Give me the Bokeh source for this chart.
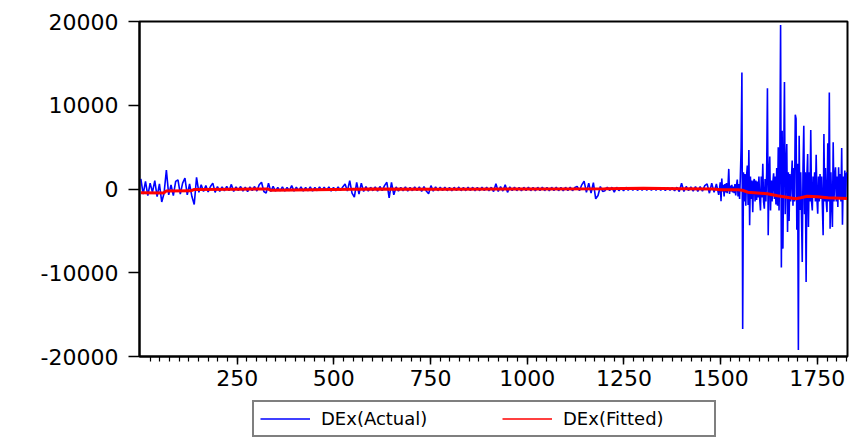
from bokeh.plotting import figure
from bokeh.models import Range1d, FixedTicker, Legend, LegendItem
from bokeh.layouts import column
from bokeh.embed import file_html
from bokeh.resources import INLINE

# ---------------- data ----------------
# quiet part: observations 1, 7, 13, ... 1495
obs_quiet = list(range(1, 1496, 6))
actual_quiet = [
    1200, -600, 900, -800, 700, -400, 1000, -900, 600, -1550,
    -500, 2250, -700, 500, -800, 900, 1100, -600, 700, 1300,
    -700, 600, -900, -1850, 1400, -400, 500, -300, 400, -350,
    300, 700, -400, 300, -280, 250, -230, 320, -200, 550,
    -300, 260, -180, 300, -250, 210, -300, 240, -190, 300,
    -250, 500, 800, -300, -500, 700, -300, 320, -250, 200,
    -220, 250, -260, 180, -200, 400, -250, 210, -190, 250,
    -240, 200, -210, 260, -250, 190, -200, 240, -180, 210,
    -200, 250, -240, 200, -210, 260, -200, 250, 600, -250,
    1000, -500, -970, 800, -600, 700, -300, 300, -250, 200,
    -200, 250, -260, 300, -200, 400, 800, -1050, 800, -700,
    250, -240, 200, -210, 260, -250, 190, -200, 240, -200,
    250, -300, 300, -250, -570, 400, -250, 250, -200, 200,
    -180, 210, -200, 190, -220, 200, -170, 230, -200, 180,
    -200, 220, -180, 200, -210, 190, -200, 230, -190, 200,
    -200, 200, -300, 620, -300, 300, -250, 500, -400, 250,
    -190, 210, -200, 180, -220, 200, -180, 230, -200, 190,
    -210, 200, -180, 220, -200, 190, -230, 200, -170, 210,
    -200, 180, -210, 200, -190, 230, -200, 180, 300, -200,
    500, 930, -400, 700, -500, 750, -1170, -770, 300, -300,
    -200, 220, -190, 200, -380, 210, -200, 180, -210, 200,
    -150, 160, -140, 150, -160, 140, -150, 170, -140, 150,
    -160, 150, -140, 160, -150, 140, -170, 150, -150, 160,
    -200, 200, -300, 690, -300, 300, -200, 250, -250, 300,
    -300, 300, -250, 400, 600, -500, 700, -400, 600, -700,
]
# volatile part: observations 1499, 1501, ... 1827
obs_volatile = list(range(1499, 1828, 2))
actual_volatile = [
    800, -1450, 1250, -300, 500, -890, 600, -400, 700, -500,
    300, 2400, -600, 400, -300, 500, -400, 300, -500, 600,
    -770, 400, 1130, -900, 600, -1200, 1500, 4970, 13900, -16720,
    2000, -1500, 1800, -2000, 1500, 2800, -1900, 4660, -4340, 1500,
    -1200, 1000, -2760, 800, 1200, -1500, 1000, -1300, 900, -1000,
    1490, -1200, -2560, 1500, -1000, 3000, -1500, -2360, 1200, -1500,
    2000, 12040, -5530, 1500, 3870, -2560, 1000, -1500, 800, 1880,
    -1200, 1500, -1840, 2500, -2000, 4970, -2560, 3000, 19575, -9380,
    6960, -7120, 3500, 12790, -3000, 2500, 5380, -5140, 2000, -3830,
    1800, -1500, 1200, 3390, -2000, 2500, -1500, 8870, 8400, -4860,
    3000, -19220, 6370, -2500, 2000, -3000, -8710, 2500, 7560, -3000,
    2000, -11090, 1500, 4190, -4540, 2000, -1500, 7040, -1500, -2560,
    1500, -1000, 2000, -1500, 4100, -1200, -2950, 1500, -1500, 1800,
    -1200, 1500, -2000, -5530, 6570, -1500, 2500, -1500, -2760, 5450,
    -1500, 11520, -4740, 2000, -1500, -4540, 5570, -1500, 1500, 2600,
    -1500, 1500, -2160, 2600, -1200, 1800, -1500, 4900, -4260, 1500,
    -1200, 2200, -1000, 1800, 2000,
]
fitted_obs = [1, 60, 66, 130, 138, 250, 330, 336, 450, 600, 780, 1000,
              1200, 1300, 1400, 1480, 1500, 1545, 1556, 1570, 1621, 1647,
              1694, 1707, 1724, 1750, 1777, 1827]
fitted_vals = [-450, -480, -250, -220, -60, -20, 0, -150, -80, 0, -40, 0,
               40, 80, 40, 0, -100, -100, -150, -380, -570, -810,
               -1170, -1050, -860, -930, -1050, -1130]

series_names = ["DEx(Actual)", "DEx(Fitted)"]
series_colors = ["#0000FF", "#FF0000"]
y_ticks = [-20000, -10000, 0, 10000, 20000]
x_ticks = [250, 500, 750, 1000, 1250, 1500, 1750]
x_minor = list(range(25, 1826, 25))

actual_obs = obs_quiet + obs_volatile
actual_vals = actual_quiet + actual_volatile

font = "DejaVu Sans"

# ---------------- main chart ----------------
p = figure(width=859, height=395, output_backend="svg", toolbar_location=None,
           x_range=Range1d(-2.5, 1828), y_range=Range1d(-20000, 20000),
           min_border_left=139, min_border_right=12, min_border_top=21,
           min_border_bottom=39)
p.background_fill_color = "white"
p.border_fill_color = "white"
p.grid.visible = False
p.outline_line_color = "black"
p.outline_line_width = 2

p.line(actual_obs, actual_vals, line_color=series_colors[0], line_width=1.6)
p.line(fitted_obs, fitted_vals, line_color=series_colors[1], line_width=3)

xa = p.xaxis[0]
xa.ticker = FixedTicker(ticks=x_ticks, minor_ticks=x_minor)
xa.axis_line_width = 2
xa.major_tick_out = 8
xa.major_tick_in = 0
xa.minor_tick_out = 5
xa.minor_tick_in = 0
xa.major_tick_line_width = 1.5
xa.minor_tick_line_width = 1.2
xa.major_label_standoff = 5
xa.major_label_text_font = font
xa.major_label_text_font_size = "22px"
xa.major_label_text_color = "black"

ya = p.yaxis[0]
ya.ticker = FixedTicker(ticks=y_ticks, minor_ticks=[])
ya.major_label_overrides = {t: str(t) for t in y_ticks}
ya.axis_line_width = 2
ya.major_tick_out = 11
ya.major_tick_in = 0
ya.minor_tick_out = 0
ya.minor_tick_in = 0
ya.major_tick_line_width = 1.5
ya.major_label_standoff = 10
ya.major_label_text_font = font
ya.major_label_text_font_size = "22px"
ya.major_label_text_color = "black"

# ---------------- legend strip ----------------
lg = figure(width=859, height=44, output_backend="svg", toolbar_location=None,
            x_range=Range1d(0, 1), y_range=Range1d(0, 1),
            x_axis_location=None, y_axis_location=None,
            min_border_left=0, min_border_right=0, min_border_top=0,
            min_border_bottom=0)
lg.grid.visible = False
lg.outline_line_color = None
lg.background_fill_color = "white"
lg.border_fill_color = "white"
items = []
for name, color in zip(series_names, series_colors):
    # placeholder renderer (outside the visible range) that only feeds the legend
    r = lg.line(x=[-5, -4], y=[-5, -4], line_color=color, line_width=1.6)
    items.append(LegendItem(label=name, renderers=[r]))

legend = Legend(items=items, orientation="horizontal", location=(113, 2),
                glyph_width=50, glyph_height=19, label_height=19,
                label_width=145, label_standoff=11, spacing=36, padding=6,
                margin=0, border_line_color="black", border_line_width=2,
                background_fill_color="white", background_fill_alpha=1,
                label_text_font=font, label_text_font_size="18px",
                label_text_color="black")
lg.add_layout(legend, "center")

layout = column(p, lg, spacing=0)
open("out.html", "w").write(file_html(layout, INLINE))
